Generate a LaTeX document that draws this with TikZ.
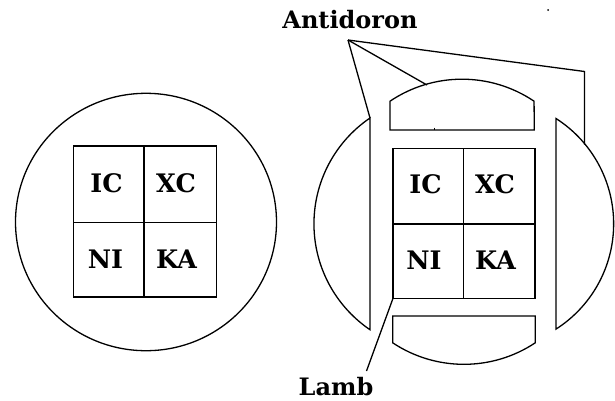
\documentclass[tikz,border=0pt]{standalone}
\usepackage{fontspec}
\setmainfont{DejaVu Serif}
\begin{document}
\begin{tikzpicture}[x=1pt,y=-1pt,line join=miter,
  ln/.style={draw=black,line width=1.3pt},
  cell/.style={font=\bfseries\fontsize{25.5}{25.5}\selectfont,inner sep=0pt,anchor=base},
  lbl/.style={font=\bfseries\fontsize{24}{24}\selectfont,inner sep=0pt,anchor=base}]
\useasboundingbox[fill=white] (0,0) rectangle (615,400);
% left host
\draw[ln] (146,222) ellipse[x radius=130.5,y radius=128.7];
\draw[ln] (73.3,146) rectangle (216.7,297);
\draw[ln] (144,146) -- (144,297);
\draw[ln] (73.3,222.3) -- (216.7,222.3);
\node[cell] (ic1) at (106.5,192) {IC};
\node[cell] (xc1) at (176,192) {XC};
\node[cell] (ni1) at (105.5,268.5) {NI};
\node[cell] (ka1) at (176.5,268.5) {KA};
% right host: pieces
\draw[ln] (370,118) arc[start angle=235.8,end angle=124.2,radius=128] -- cycle;
\draw[ln] (556,118.5) arc[start angle=-57.4,end angle=57.4,radius=125] -- cycle;
\draw[ln] (390,130) -- (390,101.2) arc[start angle=236,end angle=304,radius=128.8] -- (534.3,130) -- cycle;
\draw[ln] (392.7,316) -- (392.7,342.8) arc[start angle=123.6,end angle=56.4,radius=128.8] -- (535.3,316) -- cycle;
\draw[ln] (393,148.3) rectangle (535,298.3);
\draw[ln] (463.5,148.3) -- (463.5,298.3);
\draw[ln] (393,224) -- (535,224);
\node[cell] (ic2) at (425.5,193) {IC};
\node[cell] (xc2) at (495,193) {XC};
\node[cell] (ni2) at (424,269.5) {NI};
\node[cell] (ka2) at (495.5,269.5) {KA};
% labels
\node[lbl] (anti) at (350,28.5) {Antidoron};
\node[lbl] (lamb) at (336,395) {Lamb};
\coordinate (apex) at (348,40);
\coordinate (tleft) at (370,118);
\coordinate (tcap) at (427,85);
\coordinate (tcorner) at (584.5,71.5);
\coordinate (tright) at (584.5,144.5);
\coordinate (lambtop) at (393,298.3);
\coordinate (lambend) at (366.5,371);
\draw[ln] (apex) -- (tleft);
\draw[ln] (apex) -- (tcap);
\draw[ln] (apex) -- (tcorner) -- (tright);
\draw[ln] (lambtop) -- (lambend);
% small marks
\fill (548,10) circle[radius=1pt];
\draw[line width=1pt] (434,127.5) -- (434,130);
\end{tikzpicture}
\end{document}
